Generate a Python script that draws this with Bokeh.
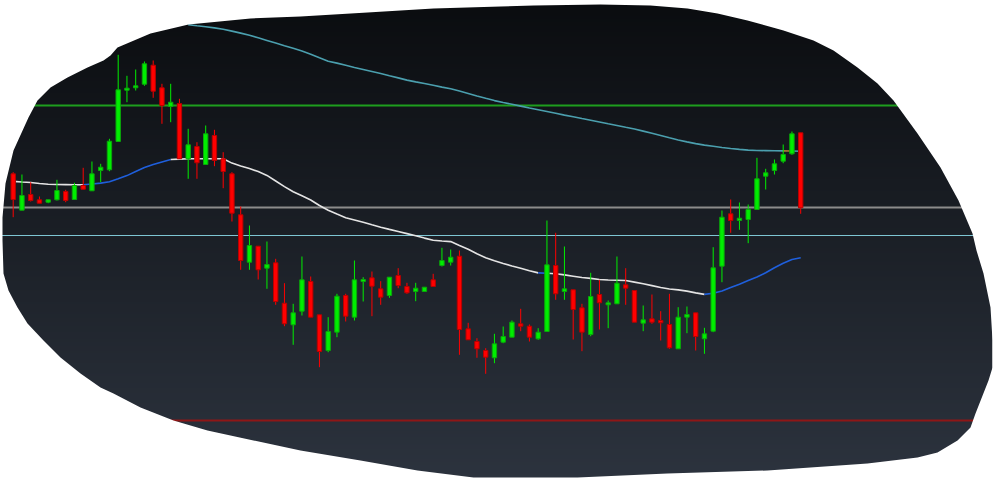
import numpy as np
from bokeh.plotting import figure
from bokeh.models import Range1d
from bokeh.embed import file_html
from bokeh.resources import INLINE

# ---------------- data ----------------
opens = [132.67, 129.03, 130.60, 130.07, 129.83, 130.07, 130.90, 130.10, 131.50, 130.97,
         133.00, 133.07, 135.90, 141.03, 141.27, 141.63, 143.53, 141.27, 139.40, 139.70,
         134.17, 135.40, 133.60, 136.50, 134.17, 132.67, 128.57, 123.83, 125.43, 123.23,
         123.77, 119.73, 117.57, 118.93, 121.90, 118.57, 115.00, 116.83, 120.50, 118.33,
         121.90, 122.27, 121.17, 120.50, 122.50, 121.40, 120.90, 120.90, 122.07, 123.50,
         123.83, 124.43, 117.17, 115.90, 115.00, 114.27, 115.83, 116.33, 117.67, 117.43,
         116.17, 116.90, 123.50, 120.90, 121.07, 119.27, 116.60, 120.60, 119.57, 119.67,
         121.57, 121.00, 117.73, 118.17, 118.00, 117.60, 115.17, 118.33, 118.77, 116.17,
         116.93, 123.43, 128.67, 128.00, 128.10, 129.10, 132.43, 133.00, 133.93, 134.67, 136.77]
highs = [132.83, 132.60, 131.83, 130.40, 130.07, 132.07, 131.07, 131.77, 133.27, 133.90,
         133.67, 136.17, 144.57, 142.47, 143.10, 143.90, 144.00, 141.67, 141.67, 140.17,
         137.17, 135.83, 137.50, 137.07, 134.83, 132.83, 129.40, 127.50, 125.43, 125.90,
         124.17, 121.73, 119.67, 124.40, 122.40, 118.57, 118.33, 120.67, 120.67, 124.00,
         122.33, 122.90, 121.93, 122.33, 123.23, 121.77, 121.77, 121.33, 122.67, 125.27,
         125.10, 125.00, 117.77, 116.23, 115.23, 116.67, 117.40, 118.00, 119.17, 117.60,
         117.23, 128.00, 126.77, 125.40, 121.07, 119.67, 122.77, 122.07, 120.00, 124.40,
         123.23, 121.00, 119.50, 120.60, 118.93, 120.67, 119.33, 119.40, 118.77, 117.27,
         125.33, 129.00, 130.10, 129.80, 129.60, 134.27, 133.17, 134.10, 135.60, 136.90, 136.77]
lows = [128.33, 129.03, 129.90, 129.73, 129.73, 130.00, 129.83, 130.10, 131.13, 130.97,
        131.83, 132.93, 135.90, 139.83, 141.00, 141.47, 140.27, 137.67, 137.83, 134.17,
        132.17, 132.17, 133.60, 133.43, 131.23, 127.90, 123.07, 123.07, 122.10, 121.17,
        119.57, 117.43, 115.57, 118.50, 118.33, 113.33, 114.83, 116.33, 117.90, 118.00,
        119.90, 118.43, 119.57, 120.27, 121.23, 120.67, 119.93, 120.90, 121.40, 123.40,
        123.50, 114.57, 116.07, 114.27, 112.67, 113.73, 115.73, 116.33, 116.93, 115.90,
        116.07, 116.90, 120.07, 120.07, 116.10, 114.93, 116.43, 117.10, 117.23, 119.67,
        119.57, 117.83, 116.93, 117.67, 116.00, 115.17, 115.17, 116.73, 115.00, 114.67,
        116.83, 121.83, 126.77, 127.07, 125.73, 129.10, 131.10, 132.60, 133.73, 134.57, 128.67]
closes = [130.10, 130.50, 130.00, 129.73, 130.07, 131.00, 130.00, 131.50, 131.13, 132.67,
          133.33, 135.93, 141.07, 141.23, 141.47, 143.67, 140.93, 139.50, 139.83, 134.17,
          135.57, 133.77, 136.67, 134.00, 132.90, 128.73, 124.00, 125.50, 123.07, 123.60,
          119.90, 117.67, 118.77, 122.07, 118.33, 114.90, 116.90, 120.43, 118.43, 122.07,
          122.10, 121.43, 120.33, 122.33, 121.50, 120.77, 121.23, 121.33, 121.40, 124.00,
          124.33, 117.10, 116.07, 115.17, 114.33, 115.67, 116.40, 117.83, 117.43, 116.33,
          116.83, 123.57, 120.67, 121.17, 119.10, 116.83, 120.40, 119.77, 119.77, 121.73,
          121.23, 117.83, 118.07, 117.83, 117.77, 115.27, 118.33, 118.60, 116.40, 116.67,
          123.27, 128.33, 128.00, 128.23, 129.10, 132.17, 132.77, 133.67, 134.60, 136.67, 129.27]

# fast moving average (one value per candle)
ma_fast = [131.91, 131.85, 131.80, 131.70, 131.62, 131.60, 131.59, 131.58, 131.57, 131.65,
           131.74, 131.88, 132.18, 132.49, 132.90, 133.29, 133.59, 133.86, 134.10, 134.14,
           134.17, 134.17, 134.17, 134.17, 134.17, 133.74, 133.46, 133.20, 132.89, 132.51,
           131.95, 131.39, 130.88, 130.47, 130.05, 129.50, 129.03, 128.64, 128.28, 128.05,
           127.82, 127.57, 127.33, 127.11, 126.90, 126.69, 126.47, 126.24, 126.02, 125.95,
           125.89, 125.50, 125.12, 124.67, 124.27, 123.97, 123.70, 123.45, 123.23, 122.98,
           122.76, 122.72, 122.68, 122.56, 122.43, 122.30, 122.21, 122.10, 122.05, 122.03,
           122.00, 121.84, 121.68, 121.49, 121.30, 121.15, 121.06, 120.94, 120.76, 120.61,
           120.72, 120.95, 121.30, 121.63, 121.99, 122.35, 122.77, 123.27, 123.73, 124.10, 124.27]
# candle ranges where the fast average is drawn in its "up" colour
ma_fast_up_ranges = [(8, 18), (60, 61), (79, 90)]

# slow moving average (starts at candle 20)
ma_slow_start = 20
ma_slow = [147.58, 147.47, 147.37, 147.26, 147.13, 146.94, 146.74, 146.52, 146.27, 146.01,
           145.75, 145.48, 145.22, 144.95, 144.63, 144.27, 143.92, 143.74, 143.52, 143.30,
           143.10, 142.90, 142.70, 142.47, 142.26, 142.04, 141.86, 141.70, 141.52, 141.34,
           141.17, 140.94, 140.71, 140.46, 140.22, 139.99, 139.80, 139.62, 139.44, 139.25,
           139.08, 138.90, 138.72, 138.54, 138.38, 138.20, 138.03, 137.85, 137.67, 137.50,
           137.32, 137.15, 136.94, 136.72, 136.50, 136.27, 136.05, 135.86, 135.69, 135.54,
           135.42, 135.30, 135.20, 135.11, 135.04, 135.00, 134.99, 134.97, 134.96, 134.95, 134.93]
ma_slow_alt_ranges = [(88, 89)]

# horizontal levels
level_resistance = 139.5
level_pivot = 129.3
level_support1 = 126.5
level_support2 = 108.0

# ---------------- geometry ----------------
W, H = 993, 479
X0_PX, DX_PX = 12.7, 8.75


def px_to_x(px):
    return (px - X0_PX) / DX_PX


def py_to_y(py):
    return 150.0 - py / 10.0


x_lo, x_hi = px_to_x(0), px_to_x(W)
y_lo, y_hi = py_to_y(H), py_to_y(0)

p = figure(width=W, height=H, output_backend="svg", toolbar_location=None,
           x_range=Range1d(x_lo, x_hi), y_range=Range1d(y_lo, y_hi),
           x_axis_location=None, y_axis_location=None,
           min_border=0, background_fill_color="white", border_fill_color="white")
p.xgrid.grid_line_color = None
p.ygrid.grid_line_color = None
p.outline_line_color = None

# ---------------- background gradient (only inside the frame's bounding box) ----------------
g_top, g_bot = 2, 478
rows = g_bot - g_top
t = (g_bot - np.arange(rows) - 0.5) / 479.0
top_c = np.array([10, 12, 15], dtype=float)
bot_c = np.array([44, 51, 62], dtype=float)
cols = top_c[None, :] + (bot_c - top_c)[None, :] * t[:, None]
img = np.empty((rows, 1), dtype=np.uint32)
view = img.view(dtype=np.uint8).reshape((rows, 1, 4))
view[:, 0, 0:3] = np.round(cols).astype(np.uint8)
view[:, 0, 3] = 255
gx0, gx1 = px_to_x(1), px_to_x(992)
p.image_rgba(image=[img], x=gx0, y=py_to_y(g_bot), dw=gx1 - gx0, dh=py_to_y(g_top) - py_to_y(g_bot))

# ---------------- levels ----------------
lx = [px_to_x(1), px_to_x(992)]
for lvl, col, lw in [(level_resistance, "#1e9e1e", 2), (level_pivot, "#8c8c8c", 2),
                     (level_support1, "#7ec6d4", 1.2), (level_support2, "#8e1616", 2)]:
    p.line(x=lx, y=[lvl, lvl], line_color=col, line_width=lw)

idx = list(range(len(opens)))


def runs(n_seg, ranges, c_in, c_out):
    flags = [False] * n_seg
    for a, b in ranges:
        for k in range(a, b):
            if 0 <= k < n_seg:
                flags[k] = True
    out = []
    start = 0
    for k in range(1, n_seg + 1):
        if k == n_seg or flags[k] != flags[start]:
            out.append((start, k, c_in if flags[start] else c_out))
            start = k
    return out


# slow MA
sx = list(range(ma_slow_start, ma_slow_start + len(ma_slow)))
xs, ys, cs = [], [], []
for a, b, c in runs(len(sx) - 1, [(r0 - ma_slow_start, r1 - ma_slow_start) for r0, r1 in ma_slow_alt_ranges],
                    "#a87836", "#4b9fae"):
    xs.append(sx[a:b + 1])
    ys.append(ma_slow[a:b + 1])
    cs.append(c)
p.multi_line(xs=xs, ys=ys, line_color=cs, line_width=1.6)

# fast MA
xs, ys, cs = [], [], []
for a, b, c in runs(len(idx) - 1, ma_fast_up_ranges, "#1f5fdc", "#e4e4e4"):
    xs.append(idx[a:b + 1])
    ys.append(ma_fast[a:b + 1])
    cs.append(c)
p.multi_line(xs=xs, ys=ys, line_color=cs, line_width=1.6)

# ---------------- candles ----------------
up = [c >= o for o, c in zip(opens, closes)]
fill = ["#00ee00" if u else "#ff0000" for u in up]
edge = ["#0aa80a" if u else "#b80000" for u in up]
p.segment(x0=idx, y0=highs, x1=idx, y1=lows, line_color=fill, line_width=1)
p.vbar(x=idx, width=0.5,
       top=[max(o, c) for o, c in zip(opens, closes)],
       bottom=[min(o, c) for o, c in zip(opens, closes)],
       fill_color=fill, line_color=edge, line_width=1)

# ---------------- irregular frame (white mask around the chart) ----------------
blob_px = [(28, 117), (37, 100), (50, 87), (67, 77), (87, 67), (103, 60), (110, 55), (117, 47),
           (150, 33), (188, 24), (250, 18), (300, 16), (367, 12), (433, 8), (500, 6), (533, 5),
           (600, 4), (650, 5), (687, 8), (717, 13), (747, 20), (783, 30), (813, 40), (833, 50),
           (857, 67), (877, 83), (893, 100), (917, 133), (940, 167), (958, 200), (972, 233),
           (976, 250), (983, 273), (990, 307), (992, 340), (992, 367), (988, 380), (975, 413),
           (970, 427), (957, 440), (937, 452), (917, 457), (867, 463), (767, 470), (667, 473),
           (577, 477), (473, 477), (417, 470), (360, 460), (300, 450), (253, 440), (207, 430),
           (173, 420), (140, 407), (113, 393), (100, 387), (80, 373), (60, 357), (43, 340),
           (27, 323), (17, 307), (8, 290), (3, 273), (2, 240), (2, 217), (5, 183), (13, 150)]
bx = [px_to_x(a) for a, b in blob_px]
by = [py_to_y(b) for a, b in blob_px]
ox = [px_to_x(-40), px_to_x(1040), px_to_x(1040), px_to_x(-40)]
oy = [py_to_y(-40), py_to_y(-40), py_to_y(520), py_to_y(520)]
p.multi_polygons(xs=[[[ox, bx]]], ys=[[[oy, by]]], fill_color="white", line_color=None)

open("out.html", "w").write(file_html(p, INLINE))
